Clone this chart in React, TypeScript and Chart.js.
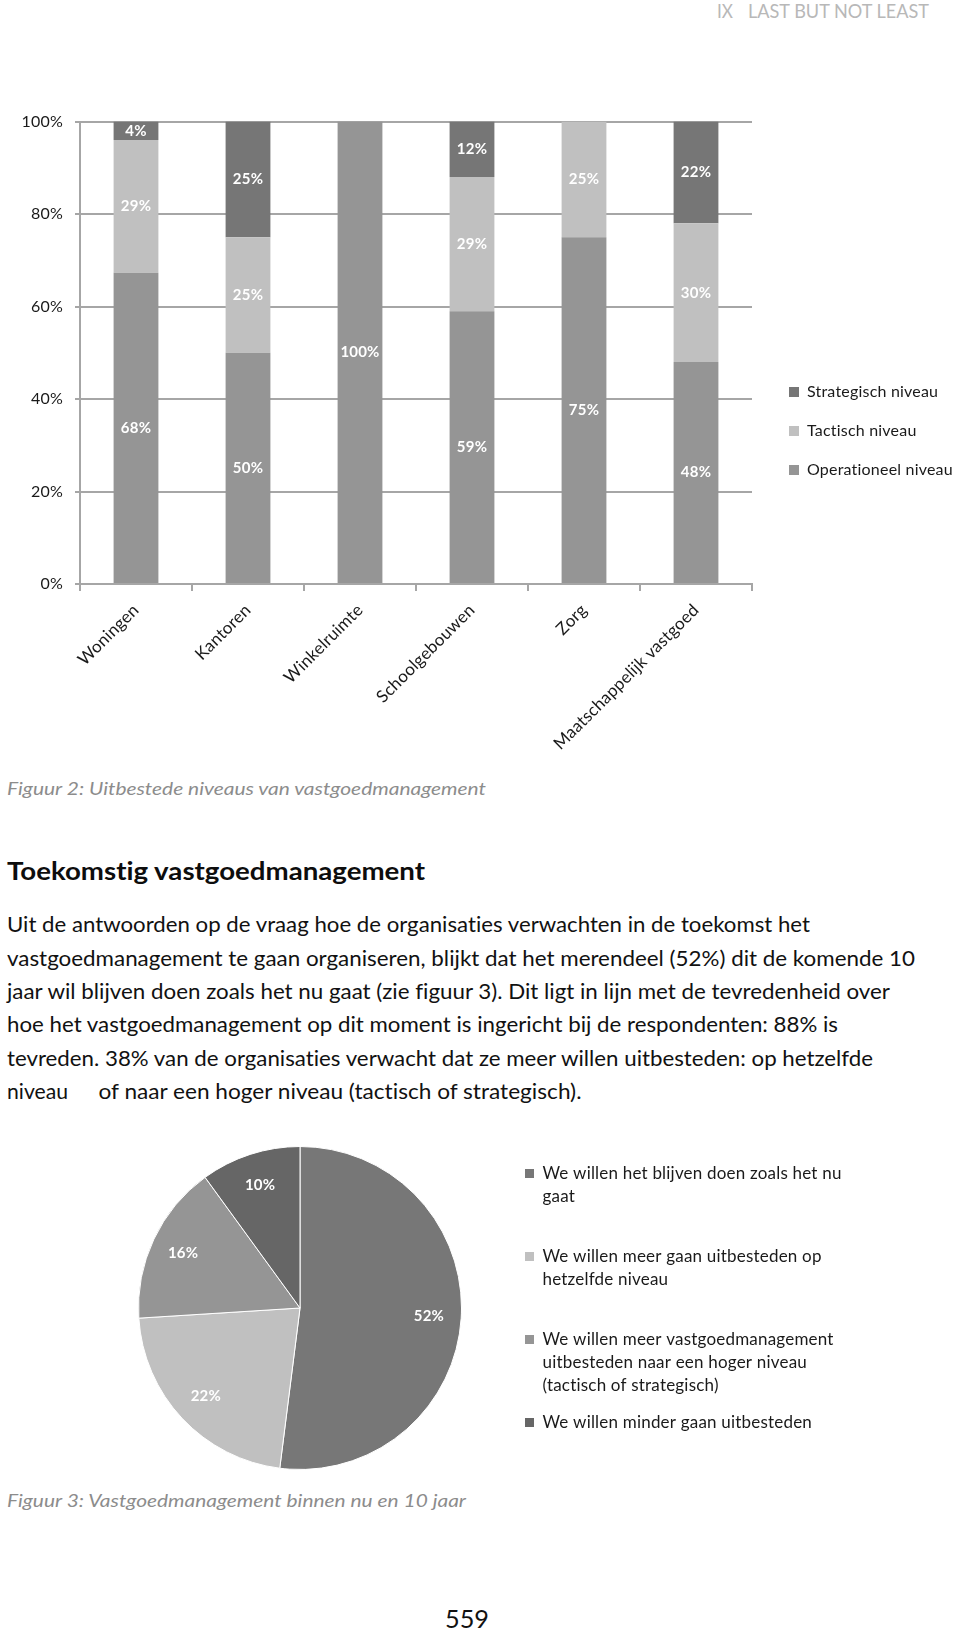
import React, { useEffect, useRef } from 'react';
import { Chart, registerables } from 'chart.js';

Chart.register(...registerables);

// ---------- Figure 2: stacked 100% column chart ----------
const categories = ['Woningen', 'Kantoren', 'Winkelruimte', 'Schoolgebouwen', 'Zorg', 'Maatschappelijk vastgoed'];
const operationeel = [68, 50, 100, 59, 75, 48];
const tactisch = [29, 25, 0, 29, 25, 30];
const strategisch = [4, 25, 0, 12, 0, 22];
const seriesNames = ['Operationeel niveau', 'Tactisch niveau', 'Strategisch niveau'];
const seriesColors = ['#959595', '#c0c0c0', '#767676'];
const yTickStep = 20;

// ---------- Figure 3: pie ----------
const pieLabels = [
  ['We willen het blijven doen zoals het nu', 'gaat'],
  ['We willen meer gaan uitbesteden op', 'hetzelfde niveau'],
  ['We willen meer vastgoedmanagement', 'uitbesteden naar een hoger niveau', '(tactisch of strategisch)'],
  'We willen minder gaan uitbesteden',
];
const pieValues = [52, 22, 16, 10];
const pieColors = ['#777777', '#c0c0c0', '#959595', '#666666'];

const FONT = 'Lato';
const TEXT = '#1a1a1a';
const AXIS = '#a6a6a6';
const LS = '0.2px'; // non-zero letter spacing: keeps Lato from forming "ti" ligatures

function measure(text: string, font: string) {
  const c = document.createElement('canvas').getContext('2d') as any;
  c.font = font;
  c.letterSpacing = LS;
  return c.measureText(text).width;
}

const noLigatures = {
  id: 'noLigatures',
  beforeInit(chart: any) { chart.ctx.letterSpacing = LS; },
  beforeUpdate(chart: any) { chart.ctx.letterSpacing = LS; },
  beforeDraw(chart: any) { chart.ctx.letterSpacing = LS; },
};

const barValueLabels = {
  id: 'barValueLabels',
  afterDatasetsDraw(chart: any) {
    const ctx = chart.ctx;
    ctx.save();
    ctx.font = `bold 15px ${FONT}`;
    ctx.fillStyle = '#ffffff';
    ctx.textAlign = 'center';
    ctx.textBaseline = 'middle';
    chart.data.datasets.forEach((ds: any, di: number) => {
      const meta = chart.getDatasetMeta(di);
      meta.data.forEach((el: any, i: number) => {
        const raw = ds.rawValues[i];
        if (!raw) return;
        const p = el.getProps(['x', 'y', 'base'], true);
        ctx.fillText(raw + '%', p.x, (p.y + p.base) / 2);
      });
    });
    ctx.restore();
  },
};

const pieValueLabels = {
  id: 'pieValueLabels',
  afterDatasetsDraw(chart: any) {
    const ctx = chart.ctx;
    ctx.save();
    ctx.font = `bold 15px ${FONT}`;
    ctx.fillStyle = '#ffffff';
    ctx.textAlign = 'center';
    ctx.textBaseline = 'middle';
    const ds = chart.data.datasets[0];
    chart.getDatasetMeta(0).data.forEach((el: any, i: number) => {
      const p = el.getProps(['x', 'y', 'startAngle', 'endAngle', 'outerRadius'], true);
      const mid = (p.startAngle + p.endAngle) / 2;
      const r = p.outerRadius * 0.8;
      ctx.fillText(ds.data[i] + '%', p.x + Math.cos(mid) * r, p.y + Math.sin(mid) * r);
    });
    ctx.restore();
  },
};

function BarChart() {
  const ref = useRef<HTMLCanvasElement>(null);
  useEffect(() => {
    const W = 1000;
    const legendFont = `16px ${FONT}`;
    const tw = Math.max(...seriesNames.map((s) => measure(s, legendFont)));
    const legendPad = 23;
    const legendW = legendPad + 10 + 8 + tw + 10;
    const gapW = 14;
    const plotRight = 752;
    const padR = W - plotRight - gapW - legendW;

    const raw = [operationeel, tactisch, strategisch];
    const totals = categories.map((_, i) => raw.reduce((s, arr) => s + arr[i], 0));
    const datasets = raw.map((arr, k) => ({
      label: seriesNames[k],
      data: arr.map((v, i) => (v / totals[i]) * 100),
      rawValues: arr,
      backgroundColor: seriesColors[k],
      borderWidth: 0,
      barPercentage: 0.4,
      categoryPercentage: 1,
      yAxisID: 'y',
    }));

    const chart = new Chart(ref.current!, {
      type: 'bar',
      data: { labels: categories, datasets },
      options: {
        animation: false,
        responsive: false,
        maintainAspectRatio: false,
        layout: { padding: { top: 0, left: 0, right: padR, bottom: 18 } },
        plugins: {
          title: { display: true, text: '', padding: 0, font: { size: 21, lineHeight: 1 } },
          legend: {
            position: 'right',
            align: 'center',
            reverse: true,
            maxWidth: 400,
            labels: {
              boxWidth: 10,
              boxHeight: 10,
              padding: legendPad,
              color: TEXT,
              font: { family: FONT, size: 16 },
            },
          },
          tooltip: { enabled: false },
        },
        scales: {
          x: {
            stacked: true,
            grid: { display: true, drawOnChartArea: false, offset: true, tickLength: 7, color: AXIS, lineWidth: 2 },
            border: { color: AXIS, width: 2 },
            ticks: { minRotation: 45, maxRotation: 45, autoSkip: false, padding: 9, color: TEXT, font: { family: FONT, size: 17 } },
            afterFit: (s: any) => { s.height = 178; },
          },
          y: {
            stacked: true,
            min: 0,
            max: 100,
            ticks: { stepSize: yTickStep, padding: 12, color: TEXT, font: { family: FONT, size: 16 }, callback: (v: any) => v + '%' },
            grid: { color: AXIS, lineWidth: 2, tickLength: 5 },
            border: { color: AXIS, width: 2 },
            afterFit: (s: any) => { s.width = 80; },
          },
          gap: {
            type: 'linear',
            position: 'right',
            grid: { display: false },
            border: { display: false },
            ticks: { display: false },
            afterFit: (s: any) => { s.width = gapW; },
          },
        },
      } as any,
      plugins: [noLigatures, barValueLabels],
    });
    return () => chart.destroy();
  }, []);
  return <canvas ref={ref} width={1000} height={680} style={{ position: 'absolute', left: 0, top: 100 }} />;
}

function PieChart() {
  const ref = useRef<HTMLCanvasElement>(null);
  useEffect(() => {
    const W = 900;
    const fontSize = 17;
    const legendFont = `${fontSize}px ${FONT}`;
    const longest = pieLabels.map((l) =>
      Array.isArray(l) ? l.reduce((a, b) => (a.length > b.length ? a : b)) : l
    );
    const tw = Math.max(...longest.map((s) => measure(s, legendFont)));
    const legendPad = 14;
    const legendW = legendPad + 9 + fontSize / 2 + tw + 10;
    const legendLeft = 511;
    const cx = 300;
    const padL = 2 * cx - legendLeft;
    const padR = W - legendLeft - legendW;

    const chart = new Chart(ref.current!, {
      type: 'pie',
      data: {
        labels: pieLabels as any,
        datasets: [{ data: pieValues, backgroundColor: pieColors, borderColor: '#ffffff', borderWidth: 1, hoverOffset: 0, hoverBorderWidth: 1 }],
      },
      options: {
        animation: false,
        responsive: false,
        maintainAspectRatio: false,
        layout: { padding: { top: 6, bottom: 10, left: padL, right: padR } },
        plugins: {
          legend: {
            position: 'right',
            align: 'start',
            maxWidth: 500,
            title: { display: true, text: '', padding: 0, font: { size: 5, lineHeight: 1 } },
            labels: {
              boxWidth: 9,
              boxHeight: 9,
              padding: legendPad,
              color: TEXT,
              font: { family: FONT, size: fontSize, lineHeight: 23 / fontSize },
              generateLabels: (c: any) => {
                const items = (Chart as any).overrides.pie.plugins.legend.labels.generateLabels(c);
                return items.map((it: any) => ({
                  ...it,
                  lineWidth: 0,
                  text: Array.isArray(it.text) && it.text.length < 3 ? [...it.text, ''] : it.text,
                }));
              },
            },
          },
          tooltip: { enabled: false },
        },
      } as any,
      plugins: [noLigatures, pieValueLabels],
    });
    return () => chart.destroy();
  }, []);
  return <canvas ref={ref} width={900} height={340} style={{ position: 'absolute', left: 0, top: 1140 }} />;
}

type T = { x: number; y: number; w: number; size: number; text: string; bold?: boolean; italic?: boolean; color?: string };
const pageTexts: T[] = [
  { x: 717, y: 17.5, w: 16, size: 18.5, text: 'IX', color: '#b8b8b8' },
  { x: 748, y: 17.5, w: 181, size: 18.5, text: 'LAST BUT NOT LEAST', color: '#b8b8b8' },
  { x: 7, y: 795, w: 479, size: 16.5, text: 'Figuur 2: Uitbestede niveaus van vastgoedmanagement', italic: true, color: '#8c8c8c' },
  { x: 7, y: 880, w: 418, size: 24.5, text: 'Toekomstig vastgoedmanagement', bold: true, color: '#0d0d0d' },
  { x: 7, y: 932.3, w: 803, size: 21, text: 'Uit de antwoorden op de vraag hoe de organisaties verwachten in de toekomst het' },
  { x: 7, y: 965.6, w: 908, size: 21, text: 'vastgoedmanagement te gaan organiseren, blijkt dat het merendeel (52%) dit de komende 10' },
  { x: 7, y: 998.9, w: 883, size: 21, text: 'jaar wil blijven doen zoals het nu gaat (zie figuur 3). Dit ligt in lijn met de tevredenheid over' },
  { x: 7, y: 1032.2, w: 831, size: 21, text: 'hoe het vastgoedmanagement op dit moment is ingericht bij de respondenten: 88% is' },
  { x: 7, y: 1065.5, w: 866, size: 21, text: 'tevreden. 38% van de organisaties verwacht dat ze meer willen uitbesteden: op hetzelfde' },
  { x: 7, y: 1098.8, w: 61, size: 21, text: 'niveau' },
  { x: 98.5, y: 1098.8, w: 483, size: 21, text: 'of naar een hoger niveau (tactisch of strategisch).' },
  { x: 7, y: 1506.5, w: 459, size: 16.5, text: 'Figuur 3: Vastgoedmanagement binnen nu en 10 jaar', italic: true, color: '#8c8c8c' },
  { x: 445, y: 1628, w: 44, size: 25, text: '559' },
];

export default function App() {
  return (
    <div style={{ position: 'absolute', left: 0, top: 0, width: 960, height: 1629, overflow: 'hidden', background: '#ffffff' }}>
      <svg width={960} height={1629} style={{ position: 'absolute', left: 0, top: 0, pointerEvents: 'none' }}>
        {pageTexts.map((t, i) => (
          <text
            key={i}
            x={t.x}
            y={t.y}
            fontFamily={FONT}
            fontSize={t.size}
            fontWeight={t.bold ? 700 : 400}
            fontStyle={t.italic ? 'italic' : 'normal'}
            fill={t.color || '#111111'}
            textLength={t.w}
            lengthAdjust="spacingAndGlyphs"
            style={{ fontVariantLigatures: 'none' }}
          >
            {t.text}
          </text>
        ))}
      </svg>
      <BarChart />
      <PieChart />
    </div>
  );
}
